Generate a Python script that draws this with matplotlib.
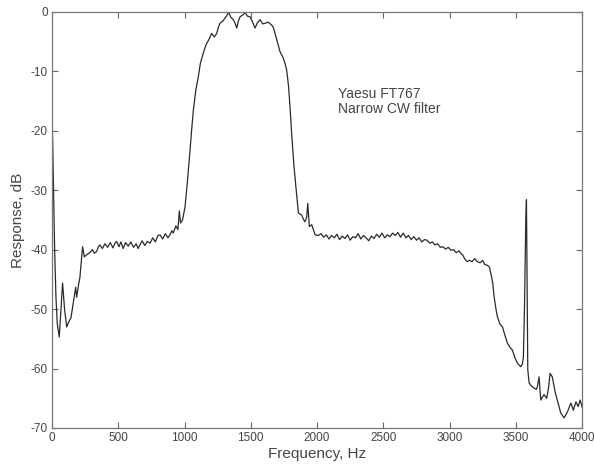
import matplotlib
matplotlib.use("Agg")
import matplotlib.pyplot as plt

# frequency (Hz) and response (dB)
freq = [0, 10, 20, 30, 40, 55, 68, 80, 95, 111, 125, 143, 160, 179, 186, 200, 211, 231, 244,
        265, 285, 305, 320, 337, 350, 362, 380, 400, 420, 440, 460, 475, 488, 505, 520, 537,
        555, 575, 595, 615, 635, 650, 664, 680, 700, 720, 740, 760, 780, 800, 815, 835, 855,
        875, 890, 905, 915, 935, 950, 961, 970, 985, 1004, 1020, 1042, 1055, 1067, 1085, 1104,
        1120, 1142, 1155, 1167, 1185, 1205, 1225, 1243, 1255, 1268, 1290, 1306, 1320, 1331,
        1350, 1368, 1380, 1394, 1405, 1419, 1440, 1457, 1475, 1494, 1510, 1532, 1550, 1570,
        1590, 1608, 1630, 1658, 1670, 1683, 1700, 1721, 1740, 1758, 1771, 1785, 1796, 1810,
        1826, 1845, 1859, 1884, 1900, 1909, 1922, 1930, 1942, 1960, 1985,
        2010, 2030, 2050, 2070, 2090, 2110, 2130, 2150, 2170, 2190, 2210, 2230, 2250, 2270,
        2290, 2310, 2330, 2350, 2370, 2390, 2410, 2430, 2450, 2470, 2490, 2510, 2530, 2550,
        2570, 2590, 2610, 2630, 2650, 2670, 2690, 2710, 2730, 2750, 2770, 2790, 2810, 2830,
        2850, 2870, 2890, 2910, 2930, 2950, 2970, 2990, 3010, 3030, 3050, 3070, 3084, 3100,
        3115, 3132, 3150, 3170, 3190, 3208, 3230, 3250, 3265, 3283, 3300, 3311, 3325, 3336,
        3350, 3361, 3380, 3399, 3415, 3436, 3455, 3474, 3495, 3512, 3537, 3550, 3557, 3565,
        3575, 3580, 3585, 3590, 3600, 3620, 3638, 3655, 3663, 3675, 3688, 3700, 3713, 3733,
        3748, 3758, 3775, 3796, 3813, 3839, 3864, 3889, 3915, 3934, 3953, 3970, 3985, 4000]
resp = [-15.6, -28, -40, -48, -52.5, -54.7, -50, -45.6, -50, -53, -52.2, -51.5, -49, -46.3,
        -48, -46, -44.6, -39.5, -41.2,
        -40.8, -40.5, -40.0, -40.6, -40.3, -39.5, -39.2, -39.8, -39.0, -39.6, -38.8, -39.7,
        -38.9, -38.6, -39.5, -38.7, -39.8, -38.8, -39.4, -38.7, -39.6, -39.0, -39.8, -39.2,
        -38.5, -39.3, -38.6, -38.9, -38.0, -38.7, -37.6, -37.5, -38.2, -37.3, -38.0, -37.5,
        -36.8, -37.2, -36.0, -36.6, -33.5, -35.5, -35.0, -32.8, -29, -23.2, -19.5, -16.5,
        -13.2, -10.9, -8.6, -6.9, -6.0, -5.3, -4.6, -3.6, -4.2, -3.6, -2.6, -1.9, -1.5, -1.0,
        -0.6, 0.0, -0.9, -1.3, -1.8, -2.7, -1.6, -0.8, -0.5, -0.1, -0.7, -0.8, -1.5, -2.7,
        -1.8, -1.3, -2.0, -1.9, -1.7, -2.2, -2.6, -3.6, -5.0, -6.7, -7.5, -8.6, -9.8, -12.5,
        -16.0, -21.0, -26.0, -30.5, -33.8, -34.2, -35.0, -35.3, -34.5, -32.2, -36.1, -35.8,
        -37.5,
        -37.6, -37.3, -37.9, -37.5, -38.2, -37.6, -38.0, -37.4, -38.3, -37.7, -38.1, -37.5,
        -38.4, -37.8, -38.0, -37.3, -38.2, -37.6, -38.0, -38.5, -37.7, -38.1, -37.4, -37.9,
        -37.2, -38.0, -37.5, -37.8, -37.2, -37.6, -37.1, -37.9, -37.2, -38.0, -37.6, -38.3,
        -37.8, -38.4, -38.0, -38.7, -38.3, -38.4, -38.9, -38.7, -39.2, -39.0, -39.6, -39.5,
        -39.9, -39.6, -40.1, -40.0, -40.5, -40.2, -40.6, -40.9, -41.6, -42.0, -41.8, -42.0,
        -41.5, -42.0, -42.2, -41.8, -42.5, -42.6, -42.9, -44.0, -45.5, -47.9, -50.0, -51.3,
        -52.5, -53.0, -54.2, -55.7, -56.4, -56.9, -58.3, -59.1, -59.7, -59.2, -58.0, -50,
        -35, -31.6, -45, -60.2, -62.4, -63.0, -63.3, -63.5, -63.0, -61.4, -65.3, -64.8,
        -64.4, -65.0, -63, -60.8, -61.4, -63.9, -65.3, -67.5, -68.3, -67.3, -65.8, -67.0,
        -65.6, -66.4, -65.3, -66.5]

xticks = [0, 500, 1000, 1500, 2000, 2500, 3000, 3500, 4000]
yticks = [0, -10, -20, -30, -40, -50, -60, -70]

plt.rcParams['font.family'] = ['Liberation Sans', 'DejaVu Sans']
plt.rcParams['axes.unicode_minus'] = False

fig = plt.figure(figsize=(5.94, 4.65), dpi=100)
ax = fig.add_axes([0.0875, 0.0796, 0.8925, 0.8946])
ax.plot(freq, resp, color='#2a2a2a', linewidth=0.9)

ax.set_xlim(0, 4000)
ax.set_ylim(-70, 0)
ax.set_xticks(xticks)
ax.set_yticks(yticks)
ax.tick_params(direction='in', top=True, right=True, length=4, width=0.8,
               colors='#666666', labelcolor='#444444', labelsize=8.5, pad=3)
for s in ax.spines.values():
    s.set_color('#777777')
    s.set_linewidth(0.9)

ax.set_xlabel('Frequency, Hz', fontsize=11, color='#444444', labelpad=2)
ax.set_ylabel('Response, dB', fontsize=11, color='#444444', labelpad=4)

ax.text(2158, -15.0, 'Yaesu FT767\nNarrow CW filter', fontsize=10, color='#444444',
        va='center', ha='left', linespacing=1.1)

fig.savefig('out.png', dpi=100)
